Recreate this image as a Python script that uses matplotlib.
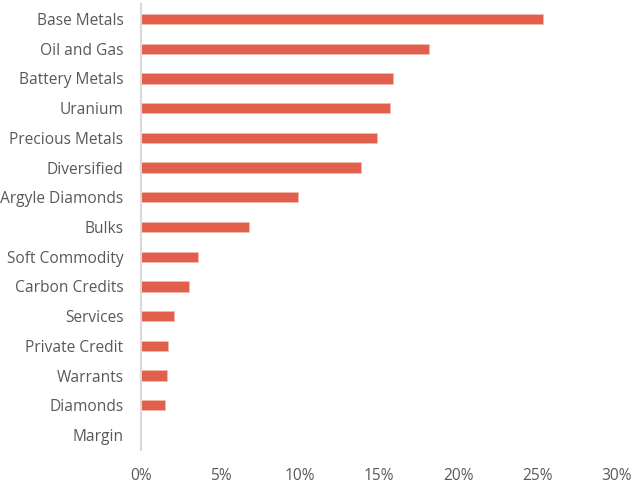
import matplotlib
matplotlib.use("Agg")
import matplotlib.pyplot as plt
from matplotlib.ticker import FuncFormatter

# sector weights in %, top to bottom as shown
sectors = ["Base Metals", "Oil and Gas", "Battery Metals", "Uranium",
           "Precious Metals", "Diversified", "Argyle Diamonds", "Bulks",
           "Soft Commodity", "Carbon Credits", "Services", "Private Credit",
           "Warrants", "Diamonds", "Margin"]
weights = [25.33, 18.13, 15.9, 15.67, 14.85, 13.86, 9.88, 6.8,
           3.56, 3.01, 2.08, 1.69, 1.6, 1.48, 0.0]
xticks = [0, 5, 10, 15, 20, 25, 30]

plt.rcParams['font.family'] = ['Open Sans', 'DejaVu Sans']

fig = plt.figure(figsize=(6.33, 4.84), dpi=100)
ax = fig.add_axes([0.2235, 0.0706, 0.7504, 0.9208])

ypos = list(range(len(sectors)))
ax.barh(ypos, weights, height=0.35, color='#E15F4B', edgecolor='#F2B8AE', linewidth=0.6)

ax.set_ylim(len(sectors) - 0.5, -0.5)
ax.set_xlim(0, 30)
ax.set_yticks(ypos)
ax.set_yticklabels(sectors)
ax.set_xticks(xticks)
ax.xaxis.set_major_formatter(FuncFormatter(lambda v, p: f"{v:.0f}%"))

for s in ['top', 'right', 'bottom']:
    ax.spines[s].set_visible(False)
ax.spines['left'].set_color('#D9D9D9')
ax.spines['left'].set_linewidth(1.5)

ax.tick_params(axis='both', length=0, labelsize=11.2, colors='#595959')
ax.tick_params(axis='y', pad=13)
ax.tick_params(axis='x', pad=13)

fig.savefig("out.png", dpi=100)
